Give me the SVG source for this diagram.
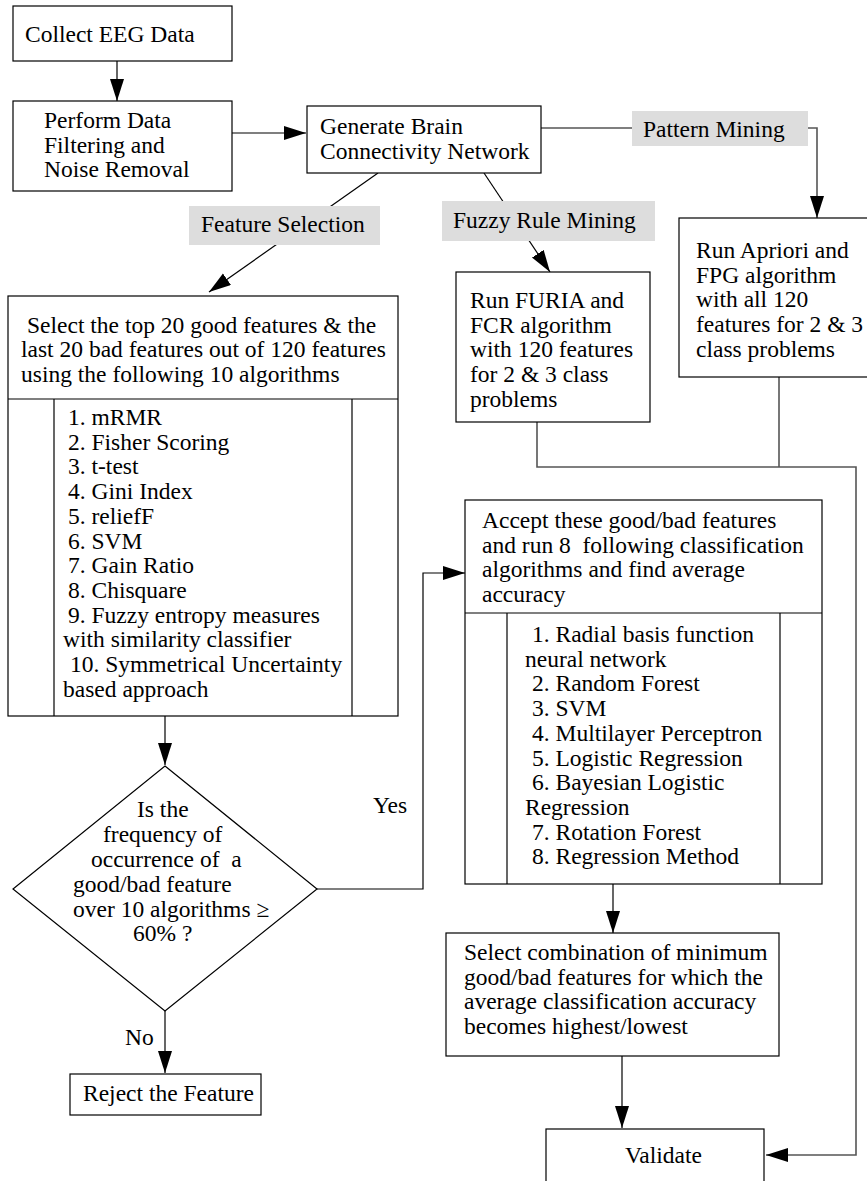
<svg xmlns="http://www.w3.org/2000/svg" width="867" height="1181" viewBox="0 0 867 1181">
<style>
.box{fill:#fff;stroke:#000;stroke-width:1.2}
.lbl{fill:#dddddd}
text{font-family:'Liberation Serif','Times New Roman',Times,'DejaVu Serif',serif;font-size:23.5px;fill:#000}
.ln{stroke:#000;stroke-width:1.2;fill:none}
.gr{stroke:#555;stroke-width:1.6;fill:none}
</style>
<defs>
<marker id="arr" markerUnits="userSpaceOnUse" markerWidth="23" markerHeight="15" refX="22" refY="7" orient="auto">
<path d="M0,0 L22,7 L0,14 Z" fill="#000"/>
</marker>
</defs>
<rect width="867" height="1181" fill="#fff"/>

<g id="connectors">
<line class="ln" x1="117" y1="61" x2="117" y2="101" marker-end="url(#arr)"/>
<line class="ln" x1="232" y1="133" x2="306" y2="133" marker-end="url(#arr)"/>
<line class="ln" x1="378" y1="173" x2="209" y2="292" marker-end="url(#arr)"/>
<line class="ln" x1="484" y1="173" x2="550" y2="272" marker-end="url(#arr)"/>
<polyline class="gr" points="541,128 817,128 817,218" marker-end="url(#arr)"/>
<line class="ln" x1="165" y1="716" x2="165" y2="765" marker-end="url(#arr)"/>
<polyline class="ln" points="317,889 423,889 423,573 465,573" marker-end="url(#arr)"/>
<line class="ln" x1="165" y1="1011" x2="165" y2="1073" marker-end="url(#arr)"/>
<polyline class="gr" points="537,422 537,467 856,467 856,1155 766,1155" marker-end="url(#arr)"/>
<line class="gr" x1="779" y1="377" x2="779" y2="467"/>
<line class="ln" x1="613" y1="884" x2="613" y2="933" marker-end="url(#arr)"/>
<line class="ln" x1="622" y1="1056" x2="622" y2="1128" marker-end="url(#arr)"/>
<text x="373" y="813">Yes</text>
<text x="125" y="1045">No</text>
<g id="label-feature-selection">
<rect class="lbl" x="189" y="206" width="191" height="39"/>
<text x="201" y="232">Feature Selection</text>
</g>
<g id="label-fuzzy-rule-mining">
<rect class="lbl" x="442" y="201" width="213" height="40"/>
<text x="453" y="228">Fuzzy Rule Mining</text>
</g>
<g id="label-pattern-mining">
<rect class="lbl" x="632" y="111" width="176" height="35"/>
<text x="643" y="137">Pattern Mining</text>
</g>
</g>

<g id="collect">
<rect class="box" x="13" y="6" width="219" height="55"/>
<text x="25" y="42">Collect EEG Data</text>
</g>

<g id="perform">
<rect class="box" x="13" y="101" width="219" height="90"/>
<text x="44" y="128">Perform Data</text>
<text x="44" y="152.7">Filtering and</text>
<text x="44" y="177.4">Noise Removal</text>
</g>

<g id="generate">
<rect class="box" x="307" y="106" width="234" height="67"/>
<text x="320" y="134">Generate Brain</text>
<text x="320" y="159">Connectivity Network</text>
</g>

<g id="select">
<rect class="box" x="8" y="296" width="390" height="420"/>
<line class="ln" x1="8" y1="399" x2="398" y2="399"/>
<line class="ln" x1="54" y1="399" x2="54" y2="716"/>
<line class="ln" x1="352" y1="399" x2="352" y2="716"/>
<text x="27" y="332.5">Select the top 20 good features &amp; the</text>
<text x="21" y="357.2">last 20 bad features out of 120 features</text>
<text x="21" y="381.9">using the following 10 algorithms</text>
<text x="68" y="425">1. mRMR</text>
<text x="68" y="449.7">2. Fisher Scoring</text>
<text x="68" y="474.4">3. t-test</text>
<text x="68" y="499.1">4. Gini Index</text>
<text x="68" y="523.8">5. reliefF</text>
<text x="68" y="548.5">6. SVM</text>
<text x="68" y="573.2">7. Gain Ratio</text>
<text x="68" y="597.9">8. Chisquare</text>
<text x="68" y="622.6">9. Fuzzy entropy measures</text>
<text x="63" y="647.3">with similarity classifier</text>
<text x="70" y="672">10. Symmetrical Uncertainty</text>
<text x="63" y="696.7">based approach</text>
</g>

<g id="decision">
<polygon class="box" points="165,766 317,889 165,1011 13,889"/>
<text x="137" y="817">Is the</text>
<text x="103" y="842">frequency of</text>
<text x="91" y="867" xml:space="preserve">occurrence of  a</text>
<text x="73" y="892">good/bad feature</text>
<text x="73" y="917">over 10 algorithms ≥</text>
<text x="133" y="941">60% ?</text>
</g>

<g id="reject">
<rect class="box" x="70" y="1074" width="191" height="41"/>
<text x="83" y="1101">Reject the Feature</text>
</g>

<g id="furia">
<rect class="box" x="456" y="272" width="194" height="150"/>
<text x="470" y="308">Run FURIA and</text>
<text x="470" y="332.7">FCR algorithm</text>
<text x="470" y="357.4">with 120 features</text>
<text x="470" y="382.1">for 2 &amp; 3 class</text>
<text x="470" y="406.8">problems</text>
</g>

<g id="apriori">
<rect class="box" x="679" y="218" width="195" height="159"/>
<text x="696" y="258">Run Apriori and</text>
<text x="696" y="282.7">FPG algorithm</text>
<text x="696" y="307.4">with all 120</text>
<text x="696" y="332.1">features for 2 &amp; 3</text>
<text x="696" y="356.8">class problems</text>
</g>

<g id="accept">
<rect class="box" x="465" y="500" width="357" height="384"/>
<line class="ln" x1="465" y1="613" x2="822" y2="613"/>
<line class="ln" x1="507" y1="613" x2="507" y2="884"/>
<line class="ln" x1="780" y1="613" x2="780" y2="884"/>
<text x="482" y="528">Accept these good/bad features</text>
<text x="482" y="552.7" xml:space="preserve">and run 8  following classification</text>
<text x="482" y="577.4">algorithms and find average</text>
<text x="482" y="602.1">accuracy</text>
<text x="532" y="642">1. Radial basis function</text>
<text x="525" y="666.7">neural network</text>
<text x="532" y="691.4">2. Random Forest</text>
<text x="532" y="716.1">3. SVM</text>
<text x="532" y="740.8">4. Multilayer Perceptron</text>
<text x="532" y="765.5">5. Logistic Regression</text>
<text x="532" y="790.2">6. Bayesian Logistic</text>
<text x="525" y="814.9">Regression</text>
<text x="532" y="839.6">7. Rotation Forest</text>
<text x="532" y="864.3">8. Regression Method</text>
</g>

<g id="combination">
<rect class="box" x="446" y="933" width="333" height="123"/>
<text x="464" y="960">Select combination of minimum</text>
<text x="464" y="984.7">good/bad features for which the</text>
<text x="464" y="1009.4">average classification accuracy</text>
<text x="464" y="1034.1">becomes highest/lowest</text>
</g>

<g id="validate">
<rect class="box" x="546" y="1129" width="218" height="60"/>
<text x="625" y="1163">Validate</text>
</g>
</svg>
